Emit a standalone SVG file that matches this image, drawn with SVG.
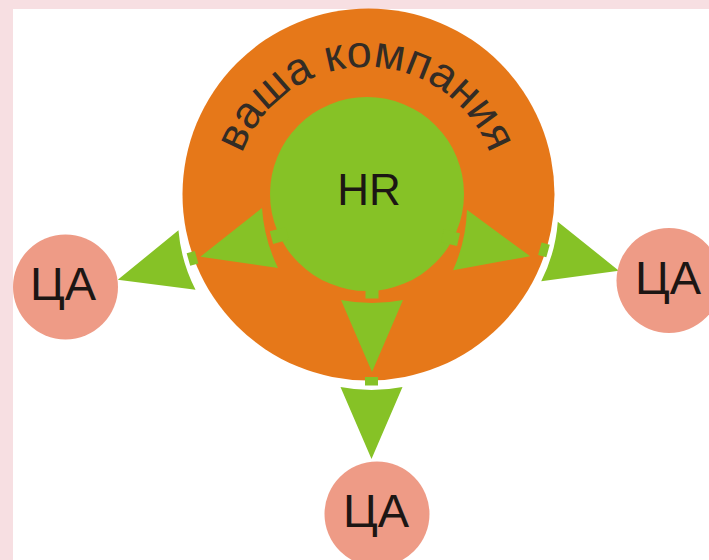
<svg xmlns="http://www.w3.org/2000/svg" width="709" height="560" viewBox="0 0 709 560">
  <style>
    .orange { fill: #e67819; }
    .green { fill: #86c226; }
    .ca { fill: #ee9b86; }
    .arrow { fill: #86c226; }
    .lbl { font-family: "Liberation Sans", Arial, sans-serif; fill: #1c1614; text-anchor: middle; }
    .arc { font-family: "Liberation Sans", Arial, sans-serif; fill: #332c25; font-size: 45px; }
  </style>
  <defs>
    <path id="head" d="M0,-31 L72,0 L0,31 A160 160 0 0 0 0,-31 Z"/>
    <path id="textArc" d="M234,199 A132 132 0 0 1 498,199"/>
  </defs>

  <rect x="0" y="0" width="709" height="560" fill="#f7dfe2"/>
  <rect x="13" y="9" width="696" height="551" fill="#ffffff"/>

  <g id="node-company">
    <circle class="orange" cx="368.5" cy="194.5" r="186"/>
    <text class="arc"><textPath href="#textArc" startOffset="50%" text-anchor="middle">ваша компания</textPath></text>
  </g>

  <g id="node-hr">
    <circle class="green" cx="367" cy="194" r="97"/>
  </g>

  <g id="connectors" class="arrow">
    <g id="arrow-inner-left" transform="translate(270,238) rotate(165)">
      <rect x="-18" y="-6.5" width="16.5" height="13"/>
      <use href="#head"/>
    </g>
    <g id="arrow-inner-right" transform="translate(460,240) rotate(13)">
      <rect x="-18" y="-6.5" width="16.5" height="13"/>
      <use href="#head"/>
    </g>
    <g id="arrow-inner-bottom" transform="translate(372,300) rotate(90)">
      <rect x="-18" y="-6.5" width="16.5" height="13"/>
      <use href="#head"/>
    </g>
    <g id="arrow-outer-left" transform="translate(187,260) rotate(164)">
      <rect x="-10" y="-6.5" width="8.5" height="13"/>
      <use href="#head"/>
    </g>
    <g id="arrow-outer-right" transform="translate(549.5,251.5) rotate(15.5)">
      <rect x="-10" y="-6.5" width="8.5" height="13"/>
      <use href="#head"/>
    </g>
    <g id="arrow-outer-bottom" transform="translate(371.5,387) rotate(90)">
      <rect x="-10" y="-6.5" width="8.5" height="13"/>
      <use href="#head"/>
    </g>
  </g>

  <g id="label-hr">
    <text class="lbl" x="369" y="205" font-size="44">HR</text>
  </g>

  <g id="node-ca-left">
    <circle class="ca" cx="65.5" cy="287" r="52.5"/>
    <text class="lbl" x="63" y="300" font-size="47">ЦА</text>
  </g>
  <g id="node-ca-right">
    <circle class="ca" cx="669" cy="280.5" r="52.5"/>
    <text class="lbl" x="668" y="293.5" font-size="47">ЦА</text>
  </g>
  <g id="node-ca-bottom">
    <circle class="ca" cx="377" cy="514" r="52.5"/>
    <text class="lbl" x="376" y="527" font-size="47">ЦА</text>
  </g>
</svg>
